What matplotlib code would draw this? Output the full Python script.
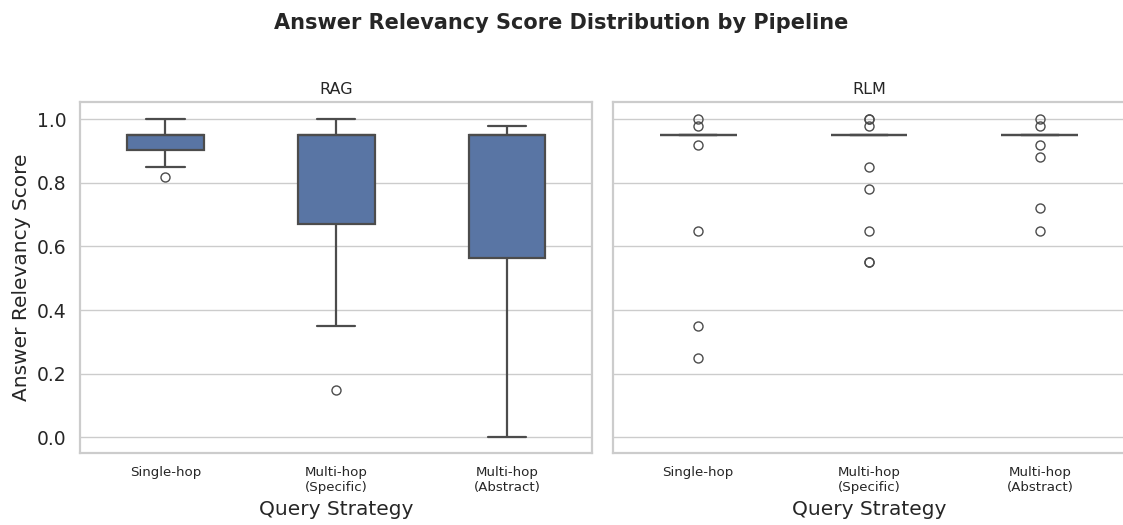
import matplotlib
matplotlib.use("Agg")
import matplotlib.pyplot as plt
import pandas as pd
import seaborn as sns

strategies = ["Single-hop", "Multi-hop\n(Specific)", "Multi-hop\n(Abstract)"]
pipelines = ["RAG", "RLM"]

# per-question answer relevancy scores
rag_single = [0.82, 0.85, 0.905, 0.92, 0.95, 0.95, 0.95, 0.97, 1.0]
rag_specific = [0.15, 0.35, 0.67, 0.80, 0.95, 0.95, 0.95, 0.98, 1.0]
rag_abstract = [0.0, 0.30, 0.565, 0.80, 0.95, 0.95, 0.95, 0.97, 0.98]

rlm_single = [0.25, 0.35, 0.65, 0.92] + [0.95] * 14 + [0.98, 1.0]
rlm_specific = [0.55, 0.55, 0.65, 0.78, 0.85] + [0.95] * 13 + [0.98, 1.0, 1.0]
rlm_abstract = [0.65, 0.72, 0.88, 0.92] + [0.95] * 14 + [0.98, 1.0]

scores = {
    "RAG": [rag_single, rag_specific, rag_abstract],
    "RLM": [rlm_single, rlm_specific, rlm_abstract],
}

rows = []
for pipe in pipelines:
    for strat, vals in zip(strategies, scores[pipe]):
        for v in vals:
            rows.append({"pipeline": pipe, "strategy": strat, "score": v})
df = pd.DataFrame(rows)

sns.set_theme(style="whitegrid")
plt.rcParams["font.family"] = ["DejaVu Sans"]

fig, axes = plt.subplots(1, 2, figsize=(11.23, 5.25), dpi=100, sharey=True)
fig.subplots_adjust(left=0.0712, right=1.002, top=0.806, bottom=0.137, wspace=0.04)

for ax, pipe in zip(axes, pipelines):
    sub = df[df["pipeline"] == pipe]
    sns.boxplot(data=sub, x="strategy", y="score", order=strategies, ax=ax,
                width=0.45, color=sns.color_palette()[0], linewidth=1.6,
                fliersize=6.5)
    ax.set_title(pipe, fontsize=11.5)
    ax.set_xlabel("Query Strategy", fontsize=14.5)
    ax.tick_params(axis="x", labelsize=9.6)
    ax.tick_params(axis="y", labelsize=13.5)
    for spine in ax.spines.values():
        spine.set_color("#cccccc")
        spine.set_linewidth(1.6)

axes[0].set_ylabel("Answer Relevancy Score", fontsize=14.5)
axes[1].set_ylabel("")
axes[0].set_ylim(-0.05, 1.055)

fig.suptitle("Answer Relevancy Score Distribution by Pipeline", fontsize=15,
             fontweight="bold", y=0.975)

fig.savefig("out.png", dpi=100)
